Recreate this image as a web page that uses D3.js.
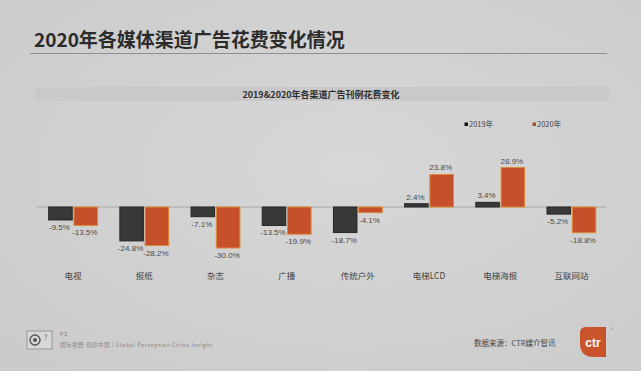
<!DOCTYPE html>
<html>
<head>
<meta charset="utf-8">
<script src="https://cdn.jsdelivr.net/npm/d3@7"></script>
<style>
  html, body { margin: 0; padding: 0; background: #d3d3d3; }
  svg { display: block; font-family: "Noto Sans CJK SC", "Noto Sans", sans-serif; }
</style>
</head>
<body>
<div id="chart"></div>
<script>
// data
const categories = ['电视', '报纸', '杂志', '广播', '传统户外', '电梯LCD', '电梯海报', '互联网站'];
const years = ['2019年', '2020年'];
const values2019 = [-9.5, -24.8, -7.1, -13.5, -18.7, 2.4, 3.4, -5.2];
const values2020 = [-13.5, -28.2, -30.0, -19.9, -4.1, 23.8, 28.9, -18.8];

const title = '2020年各媒体渠道广告花费变化情况';
const subtitle = '2019&2020年各渠道广告刊例花费变化';

const width = 641;
const height = 371;

const colours = {'2019年': '#383838', '2020年': '#c6502a'};
const strokes = {'2019年': '#262626', '2020年': '#d98a3a'};

const svg = d3.select('#chart')
    .append('svg')
        .attr('width', width)
        .attr('height', height)
        .attr('viewBox', [0, 0, width, height]);

// soft vignette background
const defs = svg.append('defs');
const grad = defs.append('radialGradient')
    .attr('id', 'bg')
    .attr('cx', '55%').attr('cy', '45%').attr('r', '75%');
grad.append('stop').attr('offset', '0%').attr('stop-color', '#d7d7d7');
grad.append('stop').attr('offset', '100%').attr('stop-color', '#cbcbcb');
svg.append('rect')
    .attr('width', width).attr('height', height)
    .attr('fill', 'url(#bg)');

// HEADER
svg.append('text')
    .attr('x', 34)
    .attr('y', 47)
    .attr('font-size', 19)
    .attr('font-weight', 'bold')
    .attr('fill', '#2b2b2b')
    .text(title);
svg.append('line')
    .attr('x1', 30).attr('x2', 607)
    .attr('y1', 53.5).attr('y2', 53.5)
    .attr('stroke', '#8f8f8f')
    .attr('stroke-width', 1);

// subtitle band
svg.append('rect')
    .attr('x', 35).attr('y', 87)
    .attr('width', 574).attr('height', 14)
    .attr('fill', '#c9c9c9');
svg.append('text')
    .attr('x', 321)
    .attr('y', 97.5)
    .attr('text-anchor', 'middle')
    .attr('font-size', 9)
    .attr('font-weight', 'bold')
    .attr('fill', '#2e2e2e')
    .text(subtitle);

// SCALES
const x0 = d3.scaleBand()
    .domain(categories)
    .range([37.5, 607])
    .paddingInner(0.3)
    .paddingOuter(0.15);
const x1 = d3.scaleBand()
    .domain(years)
    .range([0, x0.bandwidth()])
    .paddingInner(0.03);
const y = d3.scaleLinear()
    .domain([-30, 30])
    .range([248, 166]);

const rows = categories.map((c, i) => ({
    cat: c,
    vals: [
        {year: years[0], v: values2019[i]},
        {year: years[1], v: values2020[i]}
    ]
}));

// zero line
svg.append('line')
    .attr('x1', 37).attr('x2', 606)
    .attr('y1', y(0)).attr('y2', y(0))
    .attr('stroke', '#a8a8a8')
    .attr('stroke-width', 1);

// bars
const groups = svg.append('g')
        .attr('id', 'bars')
    .selectAll('g')
    .data(rows)
    .join('g')
        .attr('transform', d => `translate(${x0(d.cat)},0)`);

groups.selectAll('rect')
    .data(d => d.vals)
    .join('rect')
        .attr('x', d => x1(d.year) + 0.5)
        .attr('y', d => Math.min(y(d.v), y(0)))
        .attr('width', x1.bandwidth() - 1)
        .attr('height', d => Math.abs(y(d.v) - y(0)))
        .attr('fill', d => colours[d.year])
        .attr('stroke', d => strokes[d.year])
        .attr('stroke-width', 1);

// value labels
groups.selectAll('text')
    .data(d => d.vals)
    .join('text')
        .attr('x', d => x1(d.year) + x1.bandwidth() / 2 - 1)
        .attr('y', d => d.v < 0 ? y(d.v) + 10 : y(d.v) - 4)
        .attr('text-anchor', 'middle')
        .attr('font-size', 8)
        .attr('font-family', '"Liberation Sans", Arial, sans-serif')
        .attr('fill', '#4a4a4a')
        .text(d => `${d.v.toFixed(1)}%`);

// category axis labels
const xx = g =>
    g
        .attr('transform', `translate(0,276)`)
        .call(d3.axisBottom(x0).tickSize(0).tickPadding(0))
        .call(g => g.select('.domain').remove())
        .call(g => g.selectAll('.tick text')
            .attr('font-size', 8.5)
            .attr('font-family', '"Noto Sans CJK SC", sans-serif')
            .attr('dy', '0.35em')
            .attr('fill', '#444'));
svg.append('g').call(xx);

// legend
const legend = svg.append('g')
    .selectAll('g')
    .data(years)
    .join('g')
        .attr('transform', (d, i) => `translate(${466 + i * 68},124)`);
legend.append('rect')
    .attr('x', -1.5).attr('y', -1.5)
    .attr('width', 3.5).attr('height', 3.5)
    .attr('fill', d => d === years[0] ? '#111' : '#a0522d');
legend.append('text')
    .attr('x', 3)
    .attr('y', 3)
    .attr('font-size', 7.5)
    .attr('fill', '#444')
    .text(d => d);

// FOOTER
const foot = svg.append('g');
foot.append('rect')
    .attr('x', 27).attr('y', 331)
    .attr('width', 25).attr('height', 18)
    .attr('fill', '#d8d8d8')
    .attr('stroke', '#8a8a8a')
    .attr('stroke-width', 0.8);
foot.append('circle')
    .attr('cx', 35).attr('cy', 340).attr('r', 5)
    .attr('fill', 'none').attr('stroke', '#555').attr('stroke-width', 1.4);
foot.append('circle')
    .attr('cx', 35).attr('cy', 340).attr('r', 2)
    .attr('fill', '#555');
foot.append('text')
    .attr('x', 44).attr('y', 340)
    .attr('font-size', 7).attr('fill', '#666')
    .text('?');
foot.append('text')
    .attr('x', 60).attr('y', 336)
    .attr('font-size', 5).attr('fill', '#777')
    .text('P 2');
foot.append('text')
    .attr('x', 60).attr('y', 346.5)
    .attr('font-size', 5.5).attr('fill', '#888')
    .attr('textLength', 152)
    .text('国际视野  洞察中国 | Global Perception   China Insight');
foot.append('text')
    .attr('x', 474).attr('y', 346)
    .attr('font-size', 7.5).attr('fill', '#444')
    .text('数据来源：CTR媒介智讯');

// ctr logo
foot.append('path')
    .attr('d', 'M586,327 L606,327 L606,357 L594,357 Q580,357 580,343 L580,333 Q580,327 586,327 Z')
    .attr('fill', '#c9532a');
foot.append('text')
    .attr('x', 593).attr('y', 347)
    .attr('text-anchor', 'middle')
    .attr('font-size', 12)
    .attr('font-weight', 'bold')
    .attr('font-family', '"Liberation Sans", Arial, sans-serif')
    .attr('fill', '#fff')
    .text('ctr');
foot.append('text')
    .attr('x', 611).attr('y', 331)
    .attr('font-size', 4).attr('fill', '#888')
    .text('®');
</script>
</body>
</html>
